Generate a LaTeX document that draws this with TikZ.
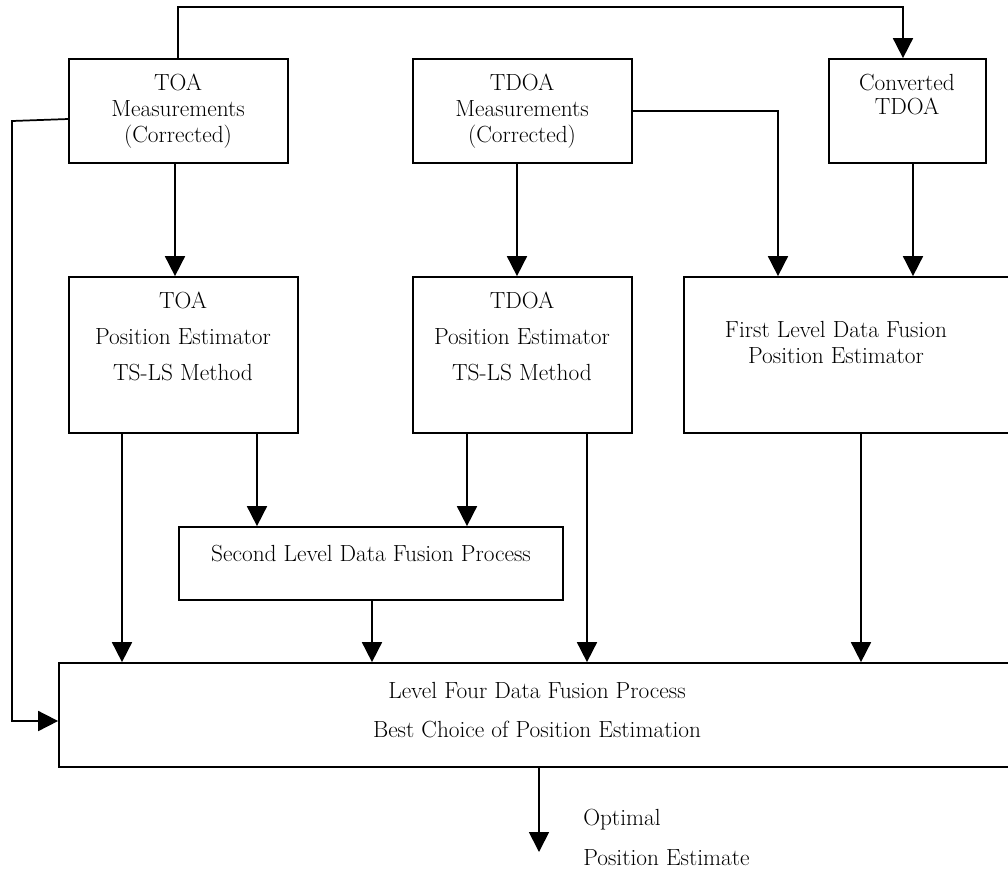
\documentclass[tikz,border=0pt]{standalone}
\usetikzlibrary{arrows.meta,fit,calc}
\begin{document}
\begin{tikzpicture}[x=0.75pt,y=-0.75pt,
  box/.style={draw,line width=1.3pt,inner sep=0pt},
  txt/.style={align=center,font=\fontsize{17.5}{21}\selectfont,inner sep=0pt},
  conn/.style={line width=1.3pt},
  arr/.style={line width=1.3pt,-{Triangle[width=15pt,length=15pt]}}]
\useasboundingbox (0,0) rectangle (1008,869);
\clip (0,0) rectangle (1008,869);
% boxes
\node[box,fit={(69,59) (288,163)}] (toam) {};
\node[box,fit={(413,59) (632,163)}] (tdm) {};
\node[box,fit={(829,59) (986,163)}] (conv) {};
\node[box,fit={(69,277) (298,433)}] (toap) {};
\node[box,fit={(413,277) (632,433)}] (tdp) {};
\node[box,fit={(684,277) (1030,433)}] (fl) {};
\node[box,fit={(179,527) (563,600)}] (sl) {};
\node[box,fit={(59,663) (1030,767)}] (big) {};
% texts
\node[txt] (t1) at (178,111) {TOA\\[-1.5pt]Measurements\\[-1.5pt](Corrected)};
\node[txt] (t2) at (522,111) {TDOA\\[-1.5pt]Measurements\\[-1.5pt](Corrected)};
\node[txt] (t3) at (907,95) {Converted\\[-3pt]TDOA};
\node[txt] (t4) at (183,336) {TOA\\[6pt]Position Estimator\\[6pt]TS-LS Method};
\node[txt] (t5) at (522,336) {TDOA\\[6pt]Position Estimator\\[6pt]TS-LS Method};
\node[txt] (t6) at (836,342) {First Level Data Fusion\\[-1.5pt]Position Estimator};
\node[txt] (t7) at (371,554) {Second Level Data Fusion Process};
\node[txt] (t8) at (537,710) {Level Four Data Fusion Process\\[8.25pt]Best Choice of Position Estimation};
\node[txt,align=left,anchor=west] (t9) at (583,837) {Optimal\\[9pt]Position Estimate};
% connectors
\coordinate (top) at (178,7);
\draw[arr] (toam.north -| top) -- (top) -| (conv.north -| 903,0);
\coordinate (lc) at (12,121);
\draw[arr] (toam.west |- 0,119) -- (lc) -- (12,721) -- (big.west |- 0,721);
\draw[arr] (toam.south -| 175,0) -- (toap.north -| 175,0);
\draw[arr] (tdm.south -| 517,0) -- (tdp.north -| 517,0);
\draw[arr] (tdm.east) -| (fl.north -| 778,0);
\draw[arr] (conv.south -| 913,0) -- (fl.north -| 913,0);
\draw[arr] (toap.south -| 257,0) -- (sl.north -| 257,0);
\draw[arr] (tdp.south -| 467,0) -- (sl.north -| 467,0);
\draw[arr] (toap.south -| 122,0) -- (big.north -| 122,0);
\draw[arr] (sl.south -| 372,0) -- (big.north -| 372,0);
\draw[arr] (tdp.south -| 587,0) -- (big.north -| 587,0);
\draw[arr] (fl.south -| 861,0) -- (big.north -| 861,0);
\coordinate (out) at (539,852);
\draw[arr] (big.south -| out) -- (out);
\end{tikzpicture}
\end{document}
